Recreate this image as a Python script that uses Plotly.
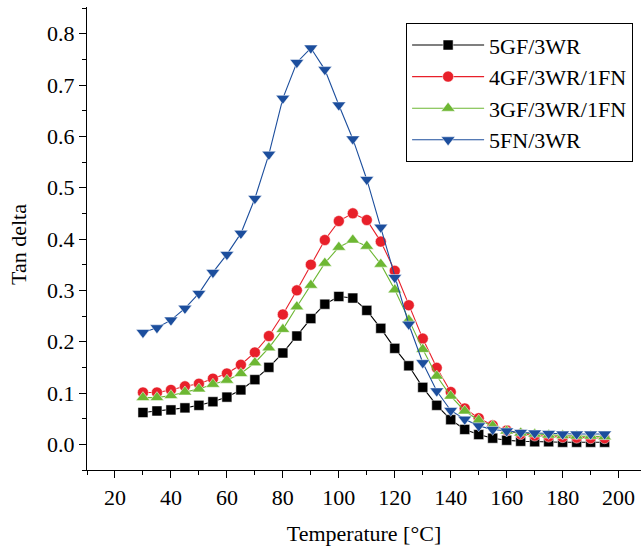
import plotly.graph_objects as go

temperature = [30, 35, 40, 45, 50, 55, 60, 65, 70, 75, 80, 85, 90, 95, 100, 105,
               110, 115, 120, 125, 130, 135, 140, 145, 150, 155, 160, 165, 170,
               175, 180, 185, 190, 195]

gf5_wr3 = [0.062, 0.065, 0.067, 0.071, 0.076, 0.083, 0.092, 0.106, 0.126, 0.150,
           0.178, 0.211, 0.245, 0.273, 0.288, 0.285, 0.261, 0.226, 0.187, 0.153,
           0.111, 0.076, 0.048, 0.029, 0.019, 0.012, 0.008, 0.006, 0.005, 0.005,
           0.004, 0.004, 0.004, 0.004]

gf4_wr3_fn1 = [0.101, 0.101, 0.106, 0.113, 0.118, 0.128, 0.138, 0.155, 0.179, 0.211,
               0.253, 0.300, 0.350, 0.398, 0.435, 0.450, 0.437, 0.395, 0.338, 0.271,
               0.206, 0.149, 0.102, 0.070, 0.051, 0.037, 0.027, 0.020, 0.017, 0.015,
               0.014, 0.013, 0.012, 0.012]

gf3_wr3_fn1 = [0.091, 0.091, 0.095, 0.102, 0.108, 0.117, 0.125, 0.138, 0.159, 0.188,
               0.224, 0.268, 0.310, 0.353, 0.384, 0.398, 0.386, 0.351, 0.301, 0.242,
               0.185, 0.133, 0.094, 0.065, 0.047, 0.036, 0.026, 0.022, 0.020, 0.018,
               0.017, 0.016, 0.016, 0.015]

fn5_wr3 = [0.218, 0.227, 0.242, 0.265, 0.294, 0.335, 0.370, 0.411, 0.479, 0.565,
           0.674, 0.744, 0.772, 0.730, 0.661, 0.595, 0.516, 0.423, 0.325, 0.234,
           0.159, 0.104, 0.066, 0.049, 0.036, 0.029, 0.026, 0.023, 0.022, 0.021,
           0.020, 0.020, 0.020, 0.020]

series = [
    ("5GF/3WR", gf5_wr3, "#000000", "square", 10),
    ("4GF/3WR/1FN", gf4_wr3_fn1, "#E8202A", "circle", 11),
    ("3GF/3WR/1FN", gf3_wr3_fn1, "#6DB733", "triangle-up", 12),
    ("5FN/3WR", fn5_wr3, "#1C4E9D", "triangle-down", 12),
]

font_family = "Liberation Serif, Times New Roman, serif"

fig = go.Figure()
for name, vals, color, symbol, size in series:
    fig.add_trace(go.Scatter(
        x=temperature, y=vals, name=name, mode="lines+markers",
        line=dict(color=color, width=1.1),
        marker=dict(symbol=symbol, size=size, color=color,
                    line=dict(color="white", width=0.5)),
    ))

fig.update_layout(
    width=641, height=551,
    margin=dict(l=87, r=0, t=7, b=81),
    plot_bgcolor="white", paper_bgcolor="white",
    font=dict(family=font_family, size=22, color="black"),
    showlegend=True,
    legend=dict(
        x=0.576, y=0.965, xanchor="left", yanchor="top",
        bordercolor="black", borderwidth=1, bgcolor="white",
        font=dict(family=font_family, size=22, color="black"),
        itemwidth=72, tracegroupgap=0,
    ),
    annotations=[dict(
        text="Tan delta", textangle=-90, xref="paper", yref="paper",
        x=-0.1227, y=0.486, xanchor="center", yanchor="middle", showarrow=False,
        font=dict(family=font_family, size=22, color="black"),
    )],
)

fig.update_xaxes(
    range=[10, 208], tickmode="array", tickvals=list(range(20, 201, 20)),
    ticks="outside", ticklen=7, tickwidth=1.2, tickcolor="black",
    showline=True, linecolor="black", linewidth=1.2, showgrid=False, zeroline=False,
    minor=dict(tickmode="array", tickvals=list(range(10, 201, 20)), ticks="outside",
               ticklen=4, tickwidth=1.2, tickcolor="black", showgrid=False),
    title=dict(text="Temperature [°C]", font=dict(family=font_family, size=22), standoff=17),
    tickfont=dict(family=font_family, size=22),
)

fig.update_yaxes(
    range=[-0.05, 0.852], tickmode="array",
    tickvals=[0.0, 0.1, 0.2, 0.3, 0.4, 0.5, 0.6, 0.7, 0.8],
    ticktext=["0.0", "0.1", "0.2", "0.3", "0.4", "0.5", "0.6", "0.7", "0.8"],
    ticks="outside", ticklen=7, tickwidth=1.2, tickcolor="black",
    showline=True, linecolor="black", linewidth=1.2, showgrid=False, zeroline=False,
    minor=dict(tickmode="array", tickvals=[-0.05, 0.05, 0.15, 0.25, 0.35, 0.45, 0.55, 0.65, 0.75, 0.85],
               ticks="outside", ticklen=4, tickwidth=1.2, tickcolor="black", showgrid=False),
    tickfont=dict(family=font_family, size=22),
)

fig.write_html(
    "out.html",
    config={"displayModeBar": False},
    post_script="document.body.style.margin='0';document.body.style.padding='0';",
)
